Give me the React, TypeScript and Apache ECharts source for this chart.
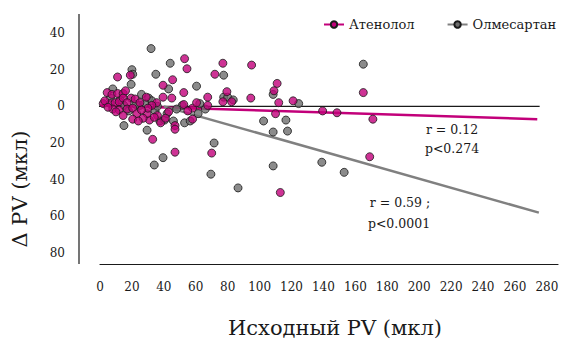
import React, { useEffect, useRef } from "react";
import * as echarts from "echarts";

const seriesNames = ["Атенолол", "Олмесартан"];
const xTitle = "Исходный PV (мкл)";
const yTitle = "Δ PV (мкл)";
const annotations = ["r = 0.12", "p<0.274", "r = 0.59 ;", "p<0.0001"];

const atenolol: [number, number][] = [
  [46, 45], [53, 26], [54.5, 20.5], [39.5, 11.5], [45.5, 14.5], [52.5, 7.5], [11, 16], [19, 17],
  [4.5, 7.5], [7.5, 6.5], [11, 7], [14.5, 7], [29, 5], [19.5, 4.5], [22, 4], [2, 1.5], [6.5, 1.5],
  [9.5, 2], [12, 2.5], [14.5, 4.5], [17, 2], [8, -1.5], [12, -2], [17, -1.5], [20.5, -1], [23, -4],
  [14.5, -5], [20.5, -7], [33, -18], [47, -25], [47, -10.5], [47, -12.5], [58, -7], [36, -5],
  [31, -7.5], [29.5, -4], [27, -6.5], [45, 4.5], [39.5, 5], [35.5, 2], [32.5, 0.5], [30, -1],
  [52.5, 1], [58, -1], [60.5, 2], [55, -2.5], [77, 23.5], [95, 22.5], [72, 17.5], [165, 7.5],
  [111, 12.5], [109, 8.5], [112, 2], [121, 3], [94.5, 4.5], [79.5, 8], [82.5, 2.5], [77, 2.5],
  [67.5, 5], [67.5, 0.5], [110, -4], [139.5, -2.5], [148.5, -3.5], [171, -7], [70, -25.5],
  [169, -27.5], [113, -47], [3, 3], [25, 2], [10, -3], [26, -2], [38, -9], [43, -3],
  [5, -0.5], [16, 8.5], [24, -8], [34, -6], [41, -6.5],
];

const olmesartan: [number, number][] = [
  [32, 31.5], [44, 23.5], [35, 17.5], [20, 20], [20.5, 17.5], [19.5, 12], [43, 9.5], [60.5, 11],
  [8, 9.5], [26, 6.5], [30.5, 4.5], [32.5, 3], [15, 0.5], [18, -2.5], [15, -10.5], [29.5, -13],
  [39.5, -28], [34, -32], [37.5, -8], [40.5, -7.5], [53, -9], [56.5, -8], [42, -4], [51.5, 0.5],
  [25, 0.5], [28, 1.5], [61.5, -4], [77.5, 17], [165, 23], [108.5, 6.5], [124.5, 1.5], [77.5, 5],
  [80, 5], [83.5, 3.5], [102.5, -8], [116.5, -7.5], [108.5, -14], [117.5, -13.5], [71.5, -20],
  [108.5, -32.5], [139, -30.5], [153, -36], [69.5, -37], [86.5, -44.5], [62.5, 1.5], [6.5, 4.5],
  [22.5, 1], [34.5, -2.5], [48, -1.5], [66, -1.5], [12.5, 3.5], [36, 0], [46, -8],
];

const atenololFit: [number, number][] = [[0, 0.5], [274, -7]];
const olmesartanFit: [number, number][] = [[40, 0], [275, -58]];
const zeroLine: [number, number][] = [[-13, 0], [275.5, 0]];

const MAGENTA = "#C2007A";
const GRAY = "#6E6E6E";
const INK = "#1a1a1a";
const FONT = "DejaVu Serif";

export default function App() {
  const ref = useRef<HTMLDivElement>(null);
  useEffect(() => {
    if (!ref.current) return;
    const chart = echarts.init(ref.current, null, { renderer: "svg" });
    const pointStyle = (c: string) => ({ color: c, borderColor: INK, borderWidth: 1 });
    const txt = (text: string, x: number, y: number, size: number) => ({
      type: "text", x, y,
      style: { text, fontSize: size, fontFamily: FONT, fill: INK, textAlign: "center", textVerticalAlign: "middle" },
    });
    chart.setOption({
      animation: false,
      textStyle: { fontFamily: FONT },
      grid: { left: 100, right: 11, top: 33, bottom: 90, containLabel: false },
      legend: {
        data: seriesNames,
        left: 318,
        top: 13,
        itemWidth: 20,
        itemHeight: 8,
        itemGap: 32,
        textStyle: { fontFamily: FONT, fontSize: 13, color: INK },
      },
      xAxis: {
        type: "value",
        min: 0,
        max: 287,
        interval: 20,
        offset: 11,
        splitLine: { show: false },
        axisTick: { show: false },
        axisLine: { show: true, onZero: false, lineStyle: { color: INK, width: 1.2 } },
        axisLabel: { showMaxLabel: false, margin: 17, fontSize: 12, color: INK, fontFamily: FONT },
      },
      yAxis: {
        type: "value",
        min: -80,
        max: 40,
        interval: 20,
        offset: 21,
        splitLine: { show: false },
        axisTick: { show: false },
        axisLine: { show: false },
        axisLabel: {
          margin: 14,
          fontSize: 12,
          color: INK,
          fontFamily: FONT,
          formatter: (v: number) => String(Math.abs(v)),
        },
      },
      graphic: [
        { type: "line", shape: { x1: 79, y1: 14, x2: 79, y2: 264 }, style: { stroke: INK, lineWidth: 1.2 } },
        { ...txt(yTitle, 20, 189, 21), rotation: Math.PI / 2 },
        txt(xTitle, 335, 328, 21),
        txt(annotations[0], 452, 129, 12.5),
        txt(annotations[1], 452, 148, 12.5),
        txt(annotations[2], 400, 202, 12.5),
        txt(annotations[3], 399, 223, 12.5),
      ],
      series: [
        {
          name: seriesNames[0], type: "line", data: atenololFit, symbol: "circle", symbolSize: 8, showSymbol: false,
          lineStyle: { color: MAGENTA, width: 2.5 }, itemStyle: pointStyle(MAGENTA), z: 3, silent: true,
        },
        {
          name: seriesNames[1], type: "line", data: olmesartanFit, symbol: "circle", symbolSize: 8, showSymbol: false,
          lineStyle: { color: "#808080", width: 2.5 }, itemStyle: pointStyle(GRAY), z: 3, silent: true,
        },
        {
          name: "zero", type: "line", data: zeroLine, showSymbol: false, clip: false, silent: true,
          lineStyle: { color: INK, width: 1.2 }, z: 1,
        },
        { name: seriesNames[1], type: "scatter", data: olmesartan, symbolSize: 8, itemStyle: pointStyle(GRAY), z: 4 },
        { name: seriesNames[0], type: "scatter", data: atenolol, symbolSize: 8, itemStyle: pointStyle(MAGENTA), z: 5 },
      ],
    });
    return () => chart.dispose();
  }, []);
  return <div ref={ref} style={{ position: "fixed", left: 0, top: 0, width: 569, height: 343, background: "#fff" }} />;
}
